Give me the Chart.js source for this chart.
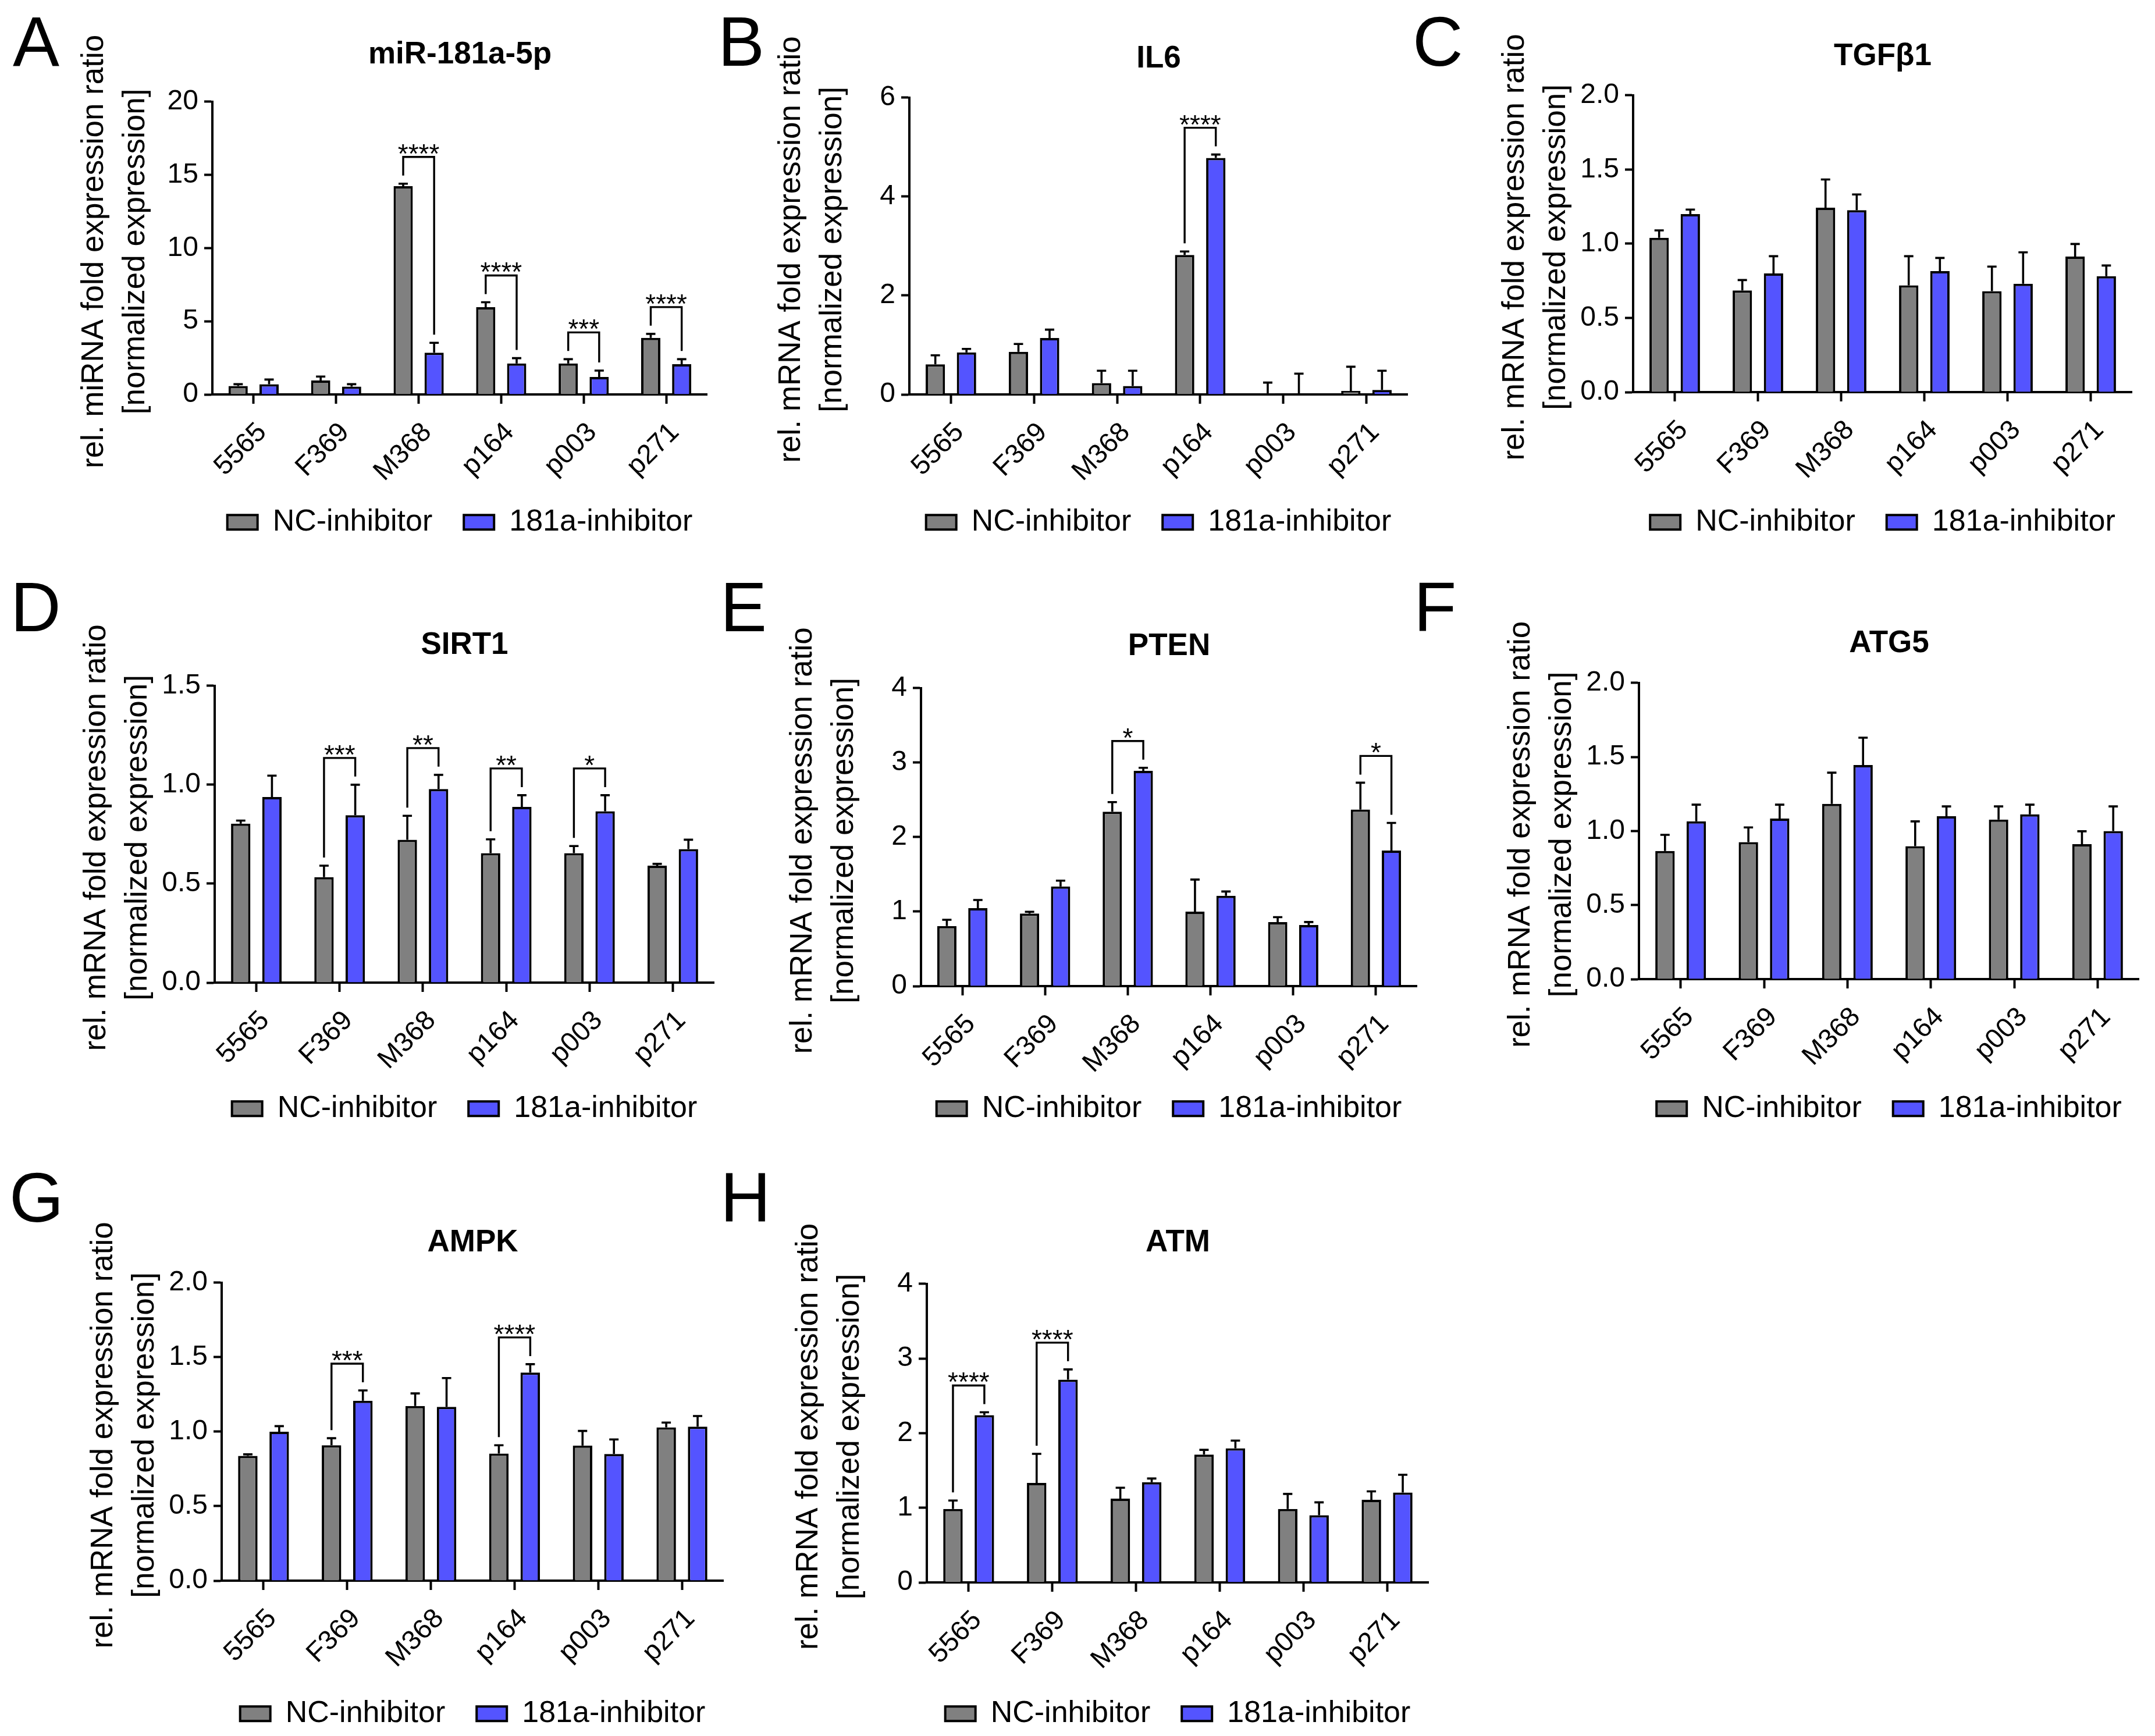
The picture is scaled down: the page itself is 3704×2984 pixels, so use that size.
<!DOCTYPE html>
<html><head><meta charset="utf-8">
<script src="https://cdn.jsdelivr.net/npm/chart.js@4.4.1/dist/chart.umd.min.js"></script>
<style>
html,body{margin:0;padding:0;background:#fff;}
body{width:3704px;height:2984px;position:relative;overflow:hidden;}
canvas{position:absolute;}
.lt{position:absolute;font-family:"Liberation Sans",Arial,sans-serif;font-size:120px;line-height:120px;color:#000;}
</style></head><body>
<script>
// ---------- data ----------
const cellLines = ['5565', 'F369', 'M368', 'p164', 'p003', 'p271'];
const seriesNames = ['NC-inhibitor', '181a-inhibitor'];

// A: miR-181a-5p
const mir_nc     = [0.58, 0.95, 14.23, 5.96, 2.12, 3.87];
const mir_ncErr  = [0.12, 0.27, 0.17, 0.34, 0.29, 0.27];
const mir_inh    = [0.70, 0.54, 2.85, 2.12, 1.19, 2.07];
const mir_inhErr = [0.32, 0.16, 0.68, 0.36, 0.44, 0.34];
const mir_ticks  = ['0', '5', '10', '15', '20'];
const mir_sig    = [[2, '****'], [3, '****'], [4, '***'], [5, '****']];

// B: IL6
const il6_nc     = [0.61, 0.86, 0.23, 2.82, 0.02, 0.07];
const il6_ncErr  = [0.18, 0.16, 0.25, 0.07, 0.22, 0.49];
const il6_inh    = [0.85, 1.14, 0.17, 4.78, 0.00, 0.09];
const il6_inhErr = [0.07, 0.17, 0.31, 0.07, 0.42, 0.39];
const il6_ticks  = ['0', '2', '4', '6'];
const il6_sig    = [[3, '****']];

// C: TGFb1
const tgf_nc     = [1.04, 0.685, 1.243, 0.719, 0.68, 0.913];
const tgf_ncErr  = [0.05, 0.07, 0.19, 0.197, 0.166, 0.085];
const tgf_inh    = [1.20, 0.80, 1.226, 0.815, 0.73, 0.781];
const tgf_inhErr = [0.03, 0.116, 0.106, 0.089, 0.212, 0.072];
const tgf_ticks  = ['0.0', '0.5', '1.0', '1.5', '2.0'];
const tgf_sig    = [];

// D: SIRT1
const sirt_nc     = [0.803, 0.533, 0.722, 0.654, 0.654, 0.591];
const sirt_ncErr  = [0.016, 0.058, 0.121, 0.07, 0.036, 0.009];
const sirt_inh    = [0.938, 0.846, 0.978, 0.888, 0.866, 0.675];
const sirt_inhErr = [0.108, 0.154, 0.072, 0.059, 0.081, 0.047];
const sirt_ticks  = ['0.0', '0.5', '1.0', '1.5'];
const sirt_sig    = [[1, '***'], [2, '**'], [3, '**'], [4, '*']];

// E: PTEN
const pten_nc     = [0.806, 0.974, 2.34, 1.0, 0.86, 2.37];
const pten_ncErr  = [0.084, 0.024, 0.13, 0.43, 0.066, 0.36];
const pten_inh    = [1.046, 1.338, 2.89, 1.213, 0.82, 1.82];
const pten_inhErr = [0.11, 0.077, 0.04, 0.057, 0.04, 0.37];
const pten_ticks  = ['0', '1', '2', '3', '4'];
const pten_sig    = [[2, '*'], [5, '*']];

// F: ATG5
const atg_nc     = [0.865, 0.925, 1.183, 0.897, 1.077, 0.911];
const atg_ncErr  = [0.109, 0.099, 0.211, 0.168, 0.089, 0.087];
const atg_inh    = [1.065, 1.084, 1.445, 1.10, 1.113, 1.0];
const atg_inhErr = [0.113, 0.094, 0.185, 0.066, 0.065, 0.166];
const atg_ticks  = ['0.0', '0.5', '1.0', '1.5', '2.0'];
const atg_sig    = [];

// G: AMPK
const ampk_nc     = [0.838, 0.909, 1.172, 0.853, 0.907, 1.029];
const ampk_ncErr  = [0.01, 0.047, 0.085, 0.056, 0.098, 0.032];
const ampk_inh    = [1.0, 1.208, 1.167, 1.397, 0.85, 1.034];
const ampk_inhErr = [0.037, 0.069, 0.193, 0.056, 0.098, 0.071];
const ampk_ticks  = ['0.0', '0.5', '1.0', '1.5', '2.0'];
const ampk_sig    = [[1, '***'], [3, '****']];

// H: ATM
const atm_nc     = [0.984, 1.333, 1.122, 1.712, 0.984, 1.107];
const atm_ncErr  = [0.113, 0.389, 0.147, 0.064, 0.202, 0.113];
const atm_inh    = [2.24, 2.716, 1.343, 1.796, 0.9, 1.205];
const atm_inhErr = [0.04, 0.138, 0.049, 0.104, 0.173, 0.237];
const atm_ticks  = ['0', '1', '2', '3', '4'];
const atm_sig    = [[0, '****'], [1, '****']];

const yTitleMiR  = ['rel. miRNA fold expression ratio', '[normalized expression]'];
const yTitleMRNA = ['rel. mRNA fold expression ratio', '[normalized expression]'];

const panels = [
  {letter: 'A', title: 'miR-181a-5p', yTitle: yTitleMiR,  nc: mir_nc,  ncErr: mir_ncErr,  inh: mir_inh,  inhErr: mir_inhErr,  ticks: mir_ticks,  sig: mir_sig},
  {letter: 'B', title: 'IL6',         yTitle: yTitleMRNA, nc: il6_nc,  ncErr: il6_ncErr,  inh: il6_inh,  inhErr: il6_inhErr,  ticks: il6_ticks,  sig: il6_sig},
  {letter: 'C', title: 'TGFβ1',       yTitle: yTitleMRNA, nc: tgf_nc,  ncErr: tgf_ncErr,  inh: tgf_inh,  inhErr: tgf_inhErr,  ticks: tgf_ticks,  sig: tgf_sig},
  {letter: 'D', title: 'SIRT1',       yTitle: yTitleMRNA, nc: sirt_nc, ncErr: sirt_ncErr, inh: sirt_inh, inhErr: sirt_inhErr, ticks: sirt_ticks, sig: sirt_sig},
  {letter: 'E', title: 'PTEN',        yTitle: yTitleMRNA, nc: pten_nc, ncErr: pten_ncErr, inh: pten_inh, inhErr: pten_inhErr, ticks: pten_ticks, sig: pten_sig},
  {letter: 'F', title: 'ATG5',        yTitle: yTitleMRNA, nc: atg_nc,  ncErr: atg_ncErr,  inh: atg_inh,  inhErr: atg_inhErr,  ticks: atg_ticks,  sig: atg_sig},
  {letter: 'G', title: 'AMPK',        yTitle: yTitleMRNA, nc: ampk_nc, ncErr: ampk_ncErr, inh: ampk_inh, inhErr: ampk_inhErr, ticks: ampk_ticks, sig: ampk_sig},
  {letter: 'H', title: 'ATM',         yTitle: yTitleMRNA, nc: atm_nc,  ncErr: atm_ncErr,  inh: atm_inh,  inhErr: atm_inhErr,  ticks: atm_ticks,  sig: atm_sig}
];

// ---------- layout (page pixels) ----------
const geom = {
  A: {axisX: 365,  plotR: 1216, topY: 175,  zeroY: 678,  titleY: 95,   legendY: 898,  letterX: 22,   letterBase: 113},
  B: {axisX: 1563, plotR: 2420, topY: 168,  zeroY: 678,  titleY: 102,  legendY: 898,  letterX: 1234, letterBase: 113},
  C: {axisX: 2807, plotR: 3665, topY: 164,  zeroY: 674,  titleY: 98,   legendY: 898,  letterX: 2428, letterBase: 113},
  D: {axisX: 369,  plotR: 1228, topY: 1179, zeroY: 1689, titleY: 1110, legendY: 1906, letterX: 18,   letterBase: 1085},
  E: {axisX: 1583, plotR: 2436, topY: 1183, zeroY: 1695, titleY: 1112, legendY: 1906, letterX: 1238, letterBase: 1085},
  F: {axisX: 2817, plotR: 3677, topY: 1174, zeroY: 1683, titleY: 1107, legendY: 1906, letterX: 2430, letterBase: 1085},
  G: {axisX: 381,  plotR: 1244, topY: 2205, zeroY: 2717, titleY: 2137, legendY: 2946, letterX: 16,   letterBase: 2100},
  H: {axisX: 1593, plotR: 2456, topY: 2207, zeroY: 2720, titleY: 2137, legendY: 2946, letterX: 1238, letterBase: 2100}
};

const FONT = '"Liberation Sans", Arial, sans-serif';
Chart.defaults.font.family = FONT;
Chart.defaults.color = '#000';

const COLORS = ['#808080', '#5454ff'];
const YW = 300;
const XH = 180;
const TITLE_SIZE = 53, TITLE_LH = TITLE_SIZE * 1.2, TITLE_PAD_TOP = 20;
const LEG_FONT = 52, LEG_PAD = 54;
const LINE_W = 4;

function makeErrorPlugin(errs) {
  return {
    id: 'errbars',
    afterDatasetsDraw(chart) {
      const ctx = chart.ctx, y = chart.scales.y;
      ctx.save();
      ctx.strokeStyle = '#000';
      ctx.lineWidth = 3.6;
      chart.data.datasets.forEach((ds, i) => {
        const meta = chart.getDatasetMeta(i);
        meta.data.forEach((bar, j) => {
          const base = y.getPixelForValue(ds.data[j]);
          const top = y.getPixelForValue(ds.data[j] + errs[i][j]);
          ctx.beginPath();
          ctx.moveTo(bar.x, base);
          ctx.lineTo(bar.x, top);
          ctx.moveTo(bar.x - 8, top);
          ctx.lineTo(bar.x + 8, top);
          ctx.stroke();
        });
      });
      ctx.restore();
    }
  };
}

function makeSigPlugin(items, errs) {
  return {
    id: 'sigbrackets',
    afterDatasetsDraw(chart) {
      const ctx = chart.ctx, y = chart.scales.y;
      const m0 = chart.getDatasetMeta(0), m1 = chart.getDatasetMeta(1);
      const d0 = chart.data.datasets[0].data, d1 = chart.data.datasets[1].data;
      ctx.save();
      ctx.strokeStyle = '#000';
      ctx.fillStyle = '#000';
      ctx.lineWidth = 3.4;
      ctx.lineJoin = 'miter';
      ctx.font = '46px ' + FONT;
      ctx.textAlign = 'center';
      ctx.textBaseline = 'alphabetic';
      items.forEach(([k, label]) => {
        const xL = m0.data[k].x, xR = m1.data[k].x;
        const tL = y.getPixelForValue(d0[k] + errs[0][k]);
        const tR = y.getPixelForValue(d1[k] + errs[1][k]);
        const yB = Math.min(tL, tR) - 46;
        ctx.beginPath();
        ctx.moveTo(xL, tL - 14);
        ctx.lineTo(xL, yB);
        ctx.lineTo(xR, yB);
        ctx.lineTo(xR, tR - 14);
        ctx.stroke();
        ctx.fillText(label, (xL + xR) / 2, yB + 10);
      });
      ctx.restore();
    }
  };
}

// two-line rotated y-axis title, centred on the y scale
function makeYTitlePlugin(lines) {
  return {
    id: 'ytitle',
    afterDraw(chart) {
      const ctx = chart.ctx, s = chart.scales.y;
      const cy = (s.top + s.bottom) / 2 + 6;
      ctx.save();
      ctx.fillStyle = '#000';
      ctx.font = '53px ' + FONT;
      ctx.textAlign = 'center';
      ctx.textBaseline = 'middle';
      lines.forEach((t, i) => {
        ctx.save();
        ctx.translate(s.right - 203 + i * 71, cy);
        ctx.rotate(-Math.PI / 2);
        ctx.fillText(t, 0, 0);
        ctx.restore();
      });
      ctx.restore();
    }
  };
}

// place the legend centred under the plot area at a chosen height
function makeLegendPlacer(topPx) {
  return {
    id: 'legendPlacer',
    afterLayout(chart) {
      const L = chart.legend, ca = chart.chartArea;
      if (!L) return;
      L.left = ca.left - 90;
      L.right = ca.right + 90;
      L.width = L.right - L.left;
      L.top = topPx;
      L.bottom = topPx + L.height;
    }
  };
}

panels.forEach(p => {
  const g = geom[p.letter];

  const lt = document.createElement('div');
  lt.className = 'lt';
  lt.textContent = p.letter;
  lt.style.left = g.letterX + 'px';
  lt.style.top = (g.letterBase - 102) + 'px';
  document.body.appendChild(lt);

  const plotW = g.plotR - g.axisX;
  const cLeft = g.axisX - YW;
  const cTop = g.titleY - TITLE_LH / 2 - TITLE_PAD_TOP;
  const titlePadBottom = g.topY - g.titleY - TITLE_LH / 2;
  const legendH = LEG_FONT + LEG_PAD + 10;
  const legendTop = g.legendY - LEG_PAD - LEG_FONT / 2;
  const cH = Math.round(g.zeroY + XH + legendH - cTop);
  const cW = YW + plotW;

  const cv = document.createElement('canvas');
  cv.width = cW; cv.height = cH;
  cv.style.left = cLeft + 'px';
  cv.style.top = cTop + 'px';
  cv.style.width = cW + 'px';
  cv.style.height = cH + 'px';
  document.body.appendChild(cv);

  const errs = [p.ncErr, p.inhErr];
  const yMax = parseFloat(p.ticks[p.ticks.length - 1]);

  new Chart(cv, {
    type: 'bar',
    data: {
      labels: cellLines,
      datasets: [
        {label: seriesNames[0], data: p.nc,  backgroundColor: COLORS[0], borderColor: '#000', borderWidth: LINE_W,
         barPercentage: 0.62, categoryPercentage: 0.75},
        {label: seriesNames[1], data: p.inh, backgroundColor: COLORS[1], borderColor: '#000', borderWidth: LINE_W,
         barPercentage: 0.62, categoryPercentage: 0.75}
      ]
    },
    options: {
      responsive: false,
      animation: false,
      devicePixelRatio: 1,
      layout: {padding: 0},
      scales: {
        x: {
          type: 'category',
          offset: true,
          z: 1,
          grid: {display: true, drawOnChartArea: false, drawTicks: true, tickLength: 16, tickWidth: LINE_W, tickColor: '#000', offset: false},
          border: {display: true, color: '#000', width: LINE_W},
          ticks: {font: {size: 47}, color: '#000', minRotation: 45, maxRotation: 45, padding: 22, labelOffset: 15, autoSkip: false},
          afterFit: s => { s.height = XH; }
        },
        y: {
          min: 0,
          max: yMax,
          z: 1,
          grid: {display: true, drawOnChartArea: false, drawTicks: true, tickLength: 14, tickWidth: LINE_W, tickColor: '#000'},
          border: {display: true, color: '#000', width: LINE_W},
          afterBuildTicks: s => { s.ticks = p.ticks.map(t => ({value: parseFloat(t)})); },
          ticks: {font: {size: 48}, color: '#000', padding: 10, callback: (v, i) => p.ticks[i]},
          title: {display: false},
          afterFit: s => { s.width = YW; }
        }
      },
      plugins: {
        title: {display: true, text: p.title, fullSize: false, color: '#000',
                font: {size: TITLE_SIZE, weight: 'bold', lineHeight: 1.2},
                padding: {top: TITLE_PAD_TOP, bottom: titlePadBottom}},
        legend: {display: true, position: 'bottom',
                 labels: {font: {size: LEG_FONT}, color: '#000', boxWidth: 52, boxHeight: 25, padding: LEG_PAD}},
        tooltip: {enabled: false}
      }
    },
    plugins: [makeErrorPlugin(errs), makeSigPlugin(p.sig, errs), makeYTitlePlugin(p.yTitle), makeLegendPlacer(legendTop - cTop)]
  });
});
</script>
</body></html>
